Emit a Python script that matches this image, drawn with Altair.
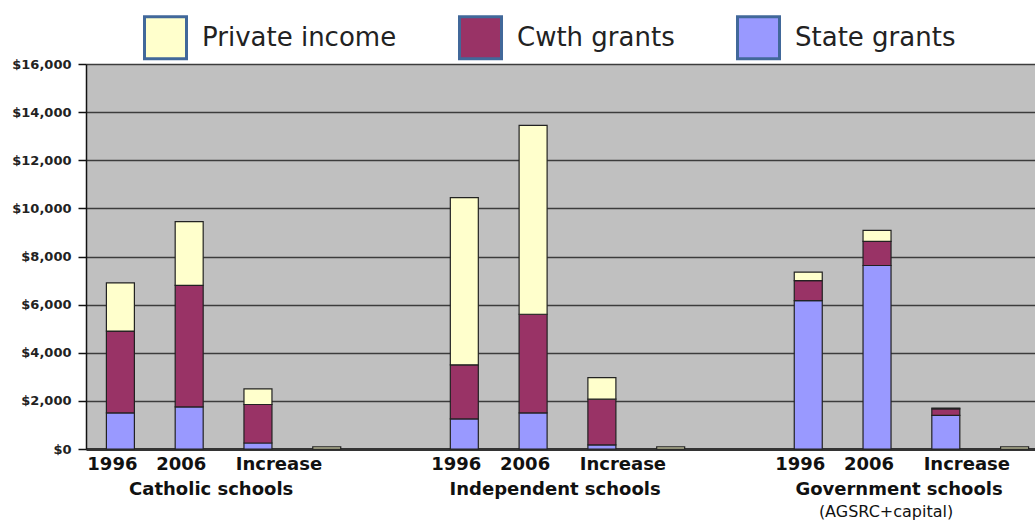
import altair as alt
import pandas as pd

# ---- data -------------------------------------------------------------
slots = ["1996|C", "2006|C", "Increase|C", "|C", "|gap1",
         "1996|I", "2006|I", "Increase|I", "|I", "|gap2",
         "1996|G", "2006|G", "Increase|G", "|G"]
bar_slots = ["1996|C", "2006|C", "Increase|C", "|C",
             "1996|I", "2006|I", "Increase|I", "|I",
             "1996|G", "2006|G", "Increase|G", "|G"]
series = ["Private income", "Cwth grants", "State grants"]
colors = ["#FFFFCC", "#993366", "#9999FF"]
state_grants = [1500, 1750, 250, 0, 1250, 1500, 170, 0, 6170, 7625, 1400, 0]
cwth_grants = [3400, 5050, 1600, 0, 2250, 4100, 1900, 0, 830, 1000, 270, 0]
private_income = [2000, 2650, 650, 90, 6950, 7850, 900, 90, 350, 460, 30, 90]
stack_order = {"State grants": 0, "Cwth grants": 1, "Private income": 2}

group_slots = ["2006|C", "2006|I", "2006|G"]
group_names = ["Catholic schools", "Independent schools", "Government schools"]
note_slots = ["2006|G"]
note_text = ["(AGSRC+capital)"]

rows = []
for s, st, cw, pr in zip(bar_slots, state_grants, cwth_grants, private_income):
    for name, v in (("State grants", st), ("Cwth grants", cw), ("Private income", pr)):
        if v > 0:
            rows.append({"slot": s, "series": name, "value": v, "ord": stack_order[name]})
df = pd.DataFrame(rows)
groups_df = pd.DataFrame({"slot": group_slots, "label": group_names})
note_df = pd.DataFrame({"slot": note_slots, "label": note_text})

# ---- chart ------------------------------------------------------------
x_scale = alt.Scale(domain=slots, range=[0, 963], paddingInner=0, paddingOuter=0)

label_offset = {
    "condition": {"test": "indexof(datum.label, 'Increase') == 0", "value": 21},
    "value": -8,
}

bars = alt.Chart(df).mark_bar(size=28, stroke="#222222", strokeWidth=1.2).encode(
    x=alt.X("slot:N", scale=x_scale, sort=slots,
            axis=alt.Axis(title=None, labelExpr="split(datum.label, '|')[0]",
                          labelAngle=0, labelFont="DejaVu Sans", labelFontWeight="bold",
                          labelFontSize=18, labelColor="#111111", labelPadding=6,
                          labelOffset=label_offset,
                          ticks=False, domainColor="#333333", domainWidth=3,
                          labelBaseline="top")),
    y=alt.Y("value:Q", stack="zero",
            scale=alt.Scale(domain=[0, 16000], nice=False),
            axis=alt.Axis(title=None, values=list(range(0, 16001, 2000)),
                          format="$,.0f", labelFont="DejaVu Sans", labelFontWeight="bold",
                          labelFontSize=13, labelColor="#222222", labelPadding=7,
                          tickSize=8, tickColor="#111111", tickWidth=1.5,
                          domainColor="#111111", domainWidth=1.5,
                          gridColor="#3C3C3C", gridWidth=1.6)),
    color=alt.Color("series:N", scale=alt.Scale(domain=series, range=colors),
                    legend=alt.Legend(title=None, orient="none", direction="horizontal",
                                      legendX=57, legendY=-49, padding=0,
                                      symbolType="square", symbolSize=1764,
                                      symbolStrokeColor="#41689A", symbolStrokeWidth=3,
                                      symbolOpacity=1,
                                      labelFont="DejaVu Sans", labelFontSize=26,
                                      labelColor="#222222", labelOffset=14,
                                      columnPadding=56, labelLimit=400)),
    order=alt.Order("ord:Q", sort="ascending"),
)

group_text = alt.Chart(groups_df).mark_text(
    font="DejaVu Sans", fontWeight="bold", fontSize=18, color="#111111",
    dx=22, baseline="middle", align="center").encode(
    x=alt.X("slot:N", scale=x_scale, sort=slots),
    y=alt.value(426),
    text="label:N",
)

note = alt.Chart(note_df).mark_text(
    font="DejaVu Sans", fontSize=16, color="#111111",
    dx=9, baseline="middle", align="center").encode(
    x=alt.X("slot:N", scale=x_scale, sort=slots),
    y=alt.value(448),
    text="label:N",
)

chart = alt.layer(bars, group_text, note).properties(
    width=949, height=385,
    autosize="none",
    padding={"left": 86, "top": 64, "right": 0, "bottom": 72},
    background="white",
).configure_view(fill="#C0C0C0", stroke=None)

chart.save("out.html", embed_options={"renderer": "svg", "actions": False})
